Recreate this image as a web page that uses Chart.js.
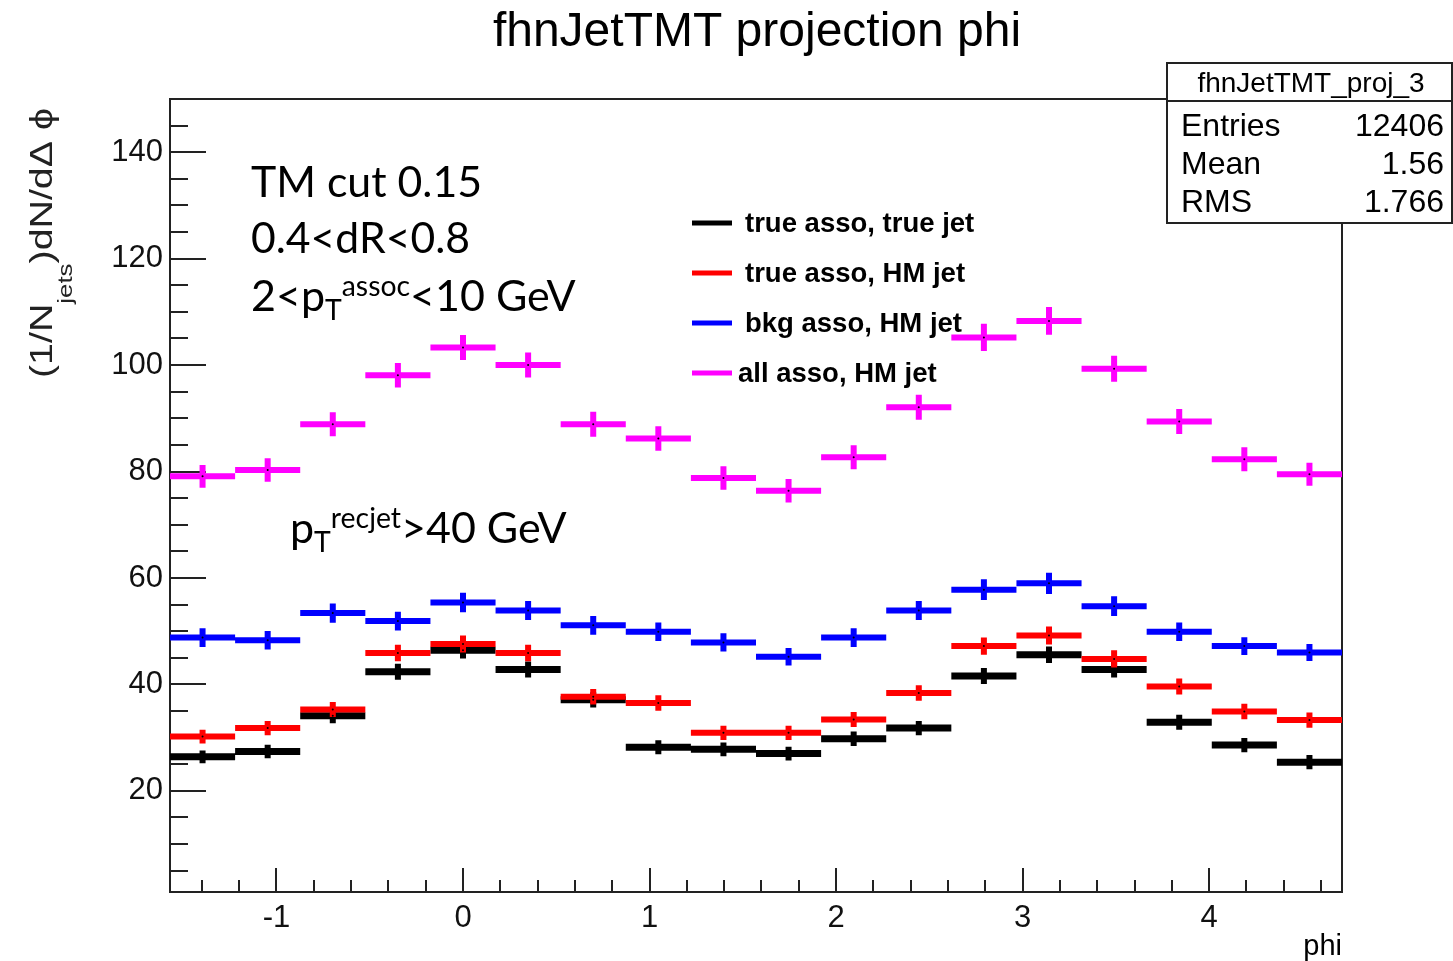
<!DOCTYPE html>
<html>
<head>
<meta charset="utf-8">
<script src="https://cdn.jsdelivr.net/npm/chart.js@4.4.0/dist/chart.umd.min.js"></script>
<style>
  html, body { margin: 0; padding: 0; background: #fff; }
</style>
</head>
<body>
<canvas id="c" width="1453" height="961"></canvas>
<script>
// histogram binning: 18 bins over [-pi/2, 3pi/2]
var binLow = -Math.PI / 2, binHigh = 3 * Math.PI / 2, nBins = 18;

var seriesNames = ["true asso, true jet", "true asso, HM jet", "bkg asso, HM jet", "all asso, HM jet"];
var seriesColors = ["#000000", "#ff0000", "#0000ff", "#ff00ff"];

// bin contents
var trueTrue = [26.4, 27.4, 34.1, 42.4, 46.4, 42.8, 37.1, 28.2, 27.8, 27.0, 29.8, 31.8, 41.6, 45.6, 42.8, 32.9, 28.6, 25.4];
var trueHM   = [30.2, 31.8, 35.3, 45.9, 47.6, 45.9, 37.7, 36.5, 30.9, 30.9, 33.4, 38.4, 47.2, 49.2, 44.8, 39.6, 34.9, 33.3];
var bkgHM    = [48.8, 48.3, 53.4, 51.9, 55.4, 53.9, 51.1, 49.9, 47.9, 45.2, 48.8, 53.9, 57.8, 59.0, 54.7, 49.9, 47.2, 46.0];
var allHM    = [79.1, 80.3, 88.9, 98.1, 103.3, 100.0, 88.9, 86.2, 78.8, 76.4, 82.7, 92.1, 105.2, 108.3, 99.3, 89.4, 82.3, 79.5];

// error bar half heights
var trueTrueErr = [1.2, 1.25, 1.4, 1.5, 1.55, 1.5, 1.45, 1.3, 1.3, 1.3, 1.35, 1.35, 1.5, 1.55, 1.5, 1.4, 1.35, 1.35];
var trueHMErr   = [1.3, 1.35, 1.4, 1.55, 1.6, 1.55, 1.45, 1.45, 1.35, 1.35, 1.4, 1.45, 1.6, 1.7, 1.6, 1.5, 1.45, 1.45];
var bkgHMErr    = [1.75, 1.75, 1.8, 1.75, 1.85, 1.8, 1.75, 1.75, 1.7, 1.65, 1.75, 1.8, 1.95, 2.0, 1.85, 1.75, 1.65, 1.6];
var allHMErr    = [2.15, 2.2, 2.25, 2.3, 2.35, 2.35, 2.35, 2.3, 2.2, 2.2, 2.25, 2.35, 2.55, 2.6, 2.45, 2.35, 2.25, 2.15];

var xTicks = [-1, 0, 1, 2, 3, 4];
var yTicks = [20, 40, 60, 80, 100, 120, 140];
var yMin = 1, yMax = 150;

var statsLabels = ["Entries", "Mean", "RMS"];
var statsValues = ["12406", "1.56", "1.766"];

var rootFont = "'Liberation Sans', Arial, sans-serif";
var noteFont = "Lato, 'Open Sans', sans-serif";

var values = [trueTrue, trueHM, bkgHM, allHM];
var errors = [trueTrueErr, trueHMErr, bkgHMErr, allHMErr];
var lineW = [7, 6, 6, 6];

var binW = (binHigh - binLow) / nBins;
var datasets = [];
var centers = [];
// magenta drawn last (on top), black first
for (var s = values.length - 1; s >= 0; s--) {
  var hor = [], ver = [];
  for (var i = 0; i < nBins; i++) {
    var lo = binLow + i * binW, hi = lo + binW, c = lo + binW / 2;
    var v = values[s][i], e = errors[s][i];
    hor.push({x: lo, y: v}, {x: hi, y: v}, {x: hi, y: null});
    ver.push({x: c, y: v - e}, {x: c, y: v + e}, {x: c, y: null});
    centers.push({x: c, y: v});
  }
  datasets.push({label: seriesNames[s], data: hor, borderColor: seriesColors[s], borderWidth: lineW[s],
                 pointRadius: 0, spanGaps: false, fill: false});
  datasets.push({label: seriesNames[s] + " err", data: ver, borderColor: seriesColors[s], borderWidth: 6,
                 pointRadius: 0, spanGaps: false, fill: false});
}
datasets.unshift({label: "centers", data: centers, showLine: false, pointRadius: 1,
                  pointBackgroundColor: "#000", pointBorderWidth: 0});

// frame and inward ticks, ROOT style
var framePlugin = {
  id: "frame",
  beforeDatasetsDraw: function (chart) {
    var ctx = chart.ctx, a = chart.chartArea, xs = chart.scales.x, ys = chart.scales.y;
    ctx.save();
    ctx.strokeStyle = "#222";
    ctx.lineWidth = 2;
    ctx.strokeRect(a.left, a.top, a.right - a.left, a.bottom - a.top);
    ctx.beginPath();
    for (var t = Math.ceil(binLow / 0.2) * 0.2; t <= binHigh; t += 0.2) {
      var major = Math.abs(t - Math.round(t)) < 1e-6;
      var px = Math.round(xs.getPixelForValue(t));
      ctx.moveTo(px, a.bottom);
      ctx.lineTo(px, a.bottom - (major ? 24 : 12));
    }
    for (var u = 5; u < yMax; u += 5) {
      var py = Math.round(ys.getPixelForValue(u));
      ctx.moveTo(a.left, py);
      ctx.lineTo(a.left + (u % 20 === 0 ? 36 : 18), py);
    }
    ctx.stroke();
    ctx.restore();
  }
};

function drawRich(ctx, x, y, parts, size, family, weight) {
  parts.forEach(function (p) {
    var sz = (p.sub || p.sup) ? size * 0.66 : size;
    ctx.font = (weight || "") + " " + sz + "px " + family;
    var dy = p.sub ? size * 0.2 : (p.sup ? -size * 0.34 : 0);
    ctx.fillText(p.t, x, y + dy);
    x += ctx.measureText(p.t).width;
  });
}

var textPlugin = {
  id: "texts",
  afterDraw: function (chart) {
    var ctx = chart.ctx, a = chart.chartArea;
    ctx.save();
    ctx.fillStyle = "#000";
    ctx.textBaseline = "alphabetic";

    // title
    ctx.textAlign = "center";
    ctx.font = "48px " + rootFont;
    ctx.fillText("fhnJetTMT projection phi", 757, 46);

    // x axis title
    ctx.textAlign = "right";
    ctx.font = "29px " + rootFont;
    ctx.fillText("phi", a.right, 955);

    // y axis title, rotated
    ctx.save();
    ctx.translate(52, 378);
    ctx.rotate(-Math.PI / 2);
    ctx.textAlign = "left";
    ctx.fillStyle = "#222";
    ctx.font = "32px " + rootFont;
    var w1 = ctx.measureText("(1/N").width;
    ctx.font = "21px " + rootFont;
    var w2 = ctx.measureText("jets").width;
    ctx.font = "32px " + rootFont;
    var w3 = ctx.measureText(")dN/d\u0394 \u03d5").width;
    ctx.scale(270 / (w1 + w2 + w3), 1);
    ctx.fillText("(1/N", 0, 0);
    ctx.font = "21px " + rootFont;
    ctx.fillText("jets", w1, 20);
    ctx.font = "32px " + rootFont;
    ctx.fillText(")dN/d\u0394 \u03d5", w1 + w2, 0);
    ctx.restore();

    // legend
    ctx.textAlign = "left";
    var legY = [223, 273, 323, 373];
    var legX = [745, 745, 745, 738];
    for (var i = 0; i < seriesNames.length; i++) {
      ctx.strokeStyle = seriesColors[i];
      ctx.lineWidth = 5;
      ctx.beginPath();
      ctx.moveTo(692, legY[i]);
      ctx.lineTo(732, legY[i]);
      ctx.stroke();
      ctx.font = "bold 27.5px " + rootFont;
      ctx.fillText(seriesNames[i], legX[i], legY[i] + 9);
    }

    // annotations
    ctx.font = "43px " + noteFont;
    ctx.fillText("TM cut 0.15", 251, 197, 231);
    ctx.fillText("0.4<dR<0.8", 251, 253, 219);
    drawRich(ctx, 251, 311, [{t: "2<p"}, {t: "T", sub: true}, {t: "assoc", sup: true}, {t: "<10 GeV"}], 43, noteFont);
    drawRich(ctx, 290, 543, [{t: "p"}, {t: "T", sub: true}, {t: "recjet", sup: true}, {t: ">40 GeV"}], 43, noteFont);

    // stats box
    var bx = 1167, by = 63, bw = 285, bh = 160;
    ctx.fillStyle = "#fff";
    ctx.fillRect(bx, by, bw, bh);
    ctx.strokeStyle = "#222";
    ctx.lineWidth = 2;
    ctx.strokeRect(bx, by, bw, bh);
    ctx.beginPath();
    ctx.moveTo(bx, 101);
    ctx.lineTo(bx + bw, 101);
    ctx.stroke();
    ctx.fillStyle = "#000";
    ctx.textAlign = "center";
    ctx.font = "28px " + rootFont;
    ctx.fillText("fhnJetTMT_proj_3", 1311, 92);
    var rowY = [136, 174, 212];
    ctx.font = "32px " + rootFont;
    for (var r = 0; r < statsLabels.length; r++) {
      ctx.textAlign = "left";
      ctx.fillText(statsLabels[r], 1181, rowY[r]);
      ctx.textAlign = "right";
      ctx.fillText(statsValues[r], 1444, rowY[r]);
    }
    ctx.restore();
  }
};

new Chart(document.getElementById("c"), {
  type: "line",
  data: {datasets: datasets},
  plugins: [framePlugin, textPlugin],
  options: {
    responsive: false,
    animation: false,
    devicePixelRatio: 1,
    events: [],
    layout: {padding: {left: 0, right: 111, top: 99, bottom: 0}},
    plugins: {legend: {display: false}, title: {display: false}, tooltip: {enabled: false}},
    scales: {
      x: {
        type: "linear", min: binLow, max: binHigh,
        afterBuildTicks: function (s) { s.ticks = xTicks.map(function (v) { return {value: v}; }); },
        afterFit: function (s) { s.height = 69; },
        grid: {display: false},
        border: {display: false},
        ticks: {color: "#111", font: {family: rootFont, size: 31}, padding: 0, autoSkip: false, maxRotation: 0}
      },
      y: {
        type: "linear", min: yMin, max: yMax,
        afterBuildTicks: function (s) { s.ticks = yTicks.map(function (v) { return {value: v}; }); },
        afterFit: function (s) { s.width = 170; },
        grid: {display: false},
        border: {display: false},
        ticks: {color: "#111", font: {family: rootFont, size: 31}, padding: -1}
      }
    }
  }
});
</script>
</body>
</html>
